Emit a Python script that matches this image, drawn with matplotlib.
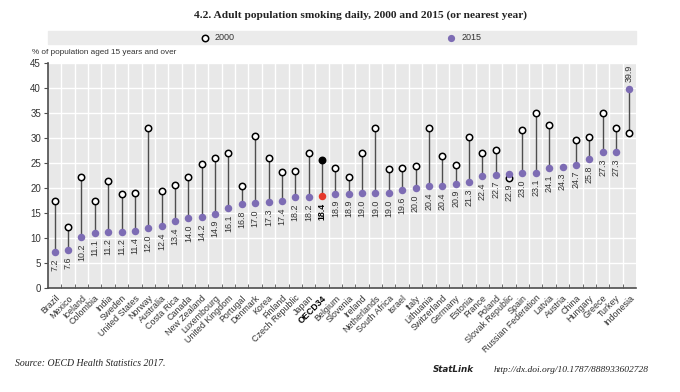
import matplotlib

matplotlib.use("Agg")

import matplotlib.pyplot as plt
from matplotlib.patches import Rectangle
import numpy as np

plt.rcParams["font.family"] = ["Liberation Sans", "DejaVu Sans"]

countries = [
    "Brazil", "Mexico", "Iceland", "Colombia", "India", "Sweden", "United States",
    "Norway", "Australia", "Costa Rica", "Canada", "New Zealand", "Luxembourg",
    "United Kingdom", "Portugal", "Denmark", "Korea", "Finland", "Czech Republic",
    "Japan", "OECD34", "Belgium", "Slovenia", "Ireland", "Netherlands", "South Africa",
    "Israel", "Italy", "Lithuania", "Switzerland", "Germany", "Estonia", "France",
    "Poland", "Slovak Republic", "Spain", "Russian Federation", "Latvia", "Austria",
    "China", "Hungary", "Greece", "Turkey", "Indonesia",
]
smoke_2015 = [
    7.2, 7.6, 10.2, 11.1, 11.2, 11.2, 11.4, 12.0, 12.4, 13.4, 14.0, 14.2, 14.9,
    16.1, 16.8, 17.0, 17.3, 17.4, 18.2, 18.2, 18.4, 18.9, 18.9, 19.0, 19.0, 19.0,
    19.6, 20.0, 20.4, 20.4, 20.9, 21.3, 22.4, 22.7, 22.9, 23.0, 23.1, 24.1, 24.3,
    24.7, 25.8, 27.3, 27.3, 39.9,
]
smoke_2000 = [
    17.5, 12.2, 22.3, 17.5, 21.5, 18.8, 19.0, 32.1, 19.5, 20.7, 22.3, 24.9, 26.0,
    27.0, 20.5, 30.5, 26.1, 23.3, 23.4, 27.0, 25.7, 24.1, 22.3, 27.0, 32.1, 23.9,
    24.1, 24.4, 32.1, 26.4, 24.7, 30.3, 27.0, 27.7, 22.1, 31.7, 35.0, 32.7, None,
    29.7, 30.2, 35.1, 32.1, 31.1,
]
yticks = [0, 5, 10, 15, 20, 25, 30, 35, 40, 45]
highlight = "OECD34"

PURPLE = "#7d6cb4"
RED = "#e5382b"
STEM = "#4d4d4d"
TEXT = "#333333"

fig = plt.figure(figsize=(6.8, 3.92), dpi=100)
ax = fig.add_axes([48 / 680, 1 - 288 / 392, 588 / 680, 225 / 392])
ax.set_facecolor("#e8e8e8")

x = np.arange(len(countries))
for i, (c, v15, v00) in enumerate(zip(countries, smoke_2015, smoke_2000)):
    is_hl = c == highlight
    if v00 is not None:
        ax.plot([i, i], [v00, v15], color=STEM, lw=1.0, zorder=2)
        ax.plot(i, v00, "o", ms=4.6, mfc="black" if is_hl else "white",
                mec="black", mew=1.1, zorder=3)
    ax.plot(i, v15, "o", ms=5.4, color=RED if is_hl else PURPLE, mec="none", zorder=4)
    low = v15 if v00 is None else min(v15, v00)
    if v15 > 35:
        ax.text(i, v15 + 1.3, f"{v15:.1f}", rotation=90, ha="center", va="bottom",
                fontsize=6.4, color=TEXT)
    else:
        ax.text(i, low - 1.3, f"{v15:.1f}", rotation=90, ha="center", va="top",
                fontsize=6.4, color="black" if is_hl else TEXT,
                fontweight="bold" if is_hl else "normal")

ax.set_xlim(-0.5, len(countries) - 0.5)
ax.set_ylim(0, 45)
ax.set_yticks(yticks)
ax.set_yticklabels([str(t) for t in yticks], fontsize=7, color=TEXT)
ax.set_xticks(x)
ax.set_xticklabels(countries, rotation=45, ha="right", rotation_mode="anchor",
                   fontsize=6.4, color=TEXT)
for lbl in ax.get_xticklabels():
    if lbl.get_text() == highlight:
        lbl.set_fontweight("bold")
        lbl.set_color("black")
ax.tick_params(axis="x", length=0, pad=4)
ax.tick_params(axis="y", length=3, color=STEM, pad=2)
ax.set_xticks(x[:-1] + 0.5, minor=True)
ax.tick_params(axis="x", which="minor", length=3, direction="in", color=STEM)
ax.grid(which="minor", axis="x", color="white", lw=1.0)
ax.grid(which="major", axis="y", color="white", lw=1.0)
ax.set_axisbelow(True)
for side in ["top", "right"]:
    ax.spines[side].set_visible(False)
for side in ["left", "bottom"]:
    ax.spines[side].set_color(STEM)
    ax.spines[side].set_linewidth(1.2)

# title and axis caption
fig.text(361 / 680, 1 - 15 / 392, "4.2. Adult population smoking daily, 2000 and 2015 (or nearest year)",
         ha="center", va="center", fontsize=8.2, fontweight="bold", color="#222222",
         family=["Liberation Serif"])
fig.text(32 / 680, 1 - 52 / 392, "% of population aged 15 years and over",
         ha="left", va="center", fontsize=5.9, color=TEXT)

# legend band
fig.patches.append(Rectangle((48 / 680, 1 - 44 / 392), 588 / 680, 13 / 392,
                             transform=fig.transFigure, color="#ebebeb", zorder=0))
fig.lines.append(plt.Line2D([205 / 680], [1 - 37.5 / 392], marker="o", ms=4.6, mfc="white",
                            mec="black", mew=1.1, transform=fig.transFigure))
fig.text(215 / 680, 1 - 37.5 / 392, "2000", ha="left", va="center", fontsize=6.5, color=TEXT)
fig.lines.append(plt.Line2D([451 / 680], [1 - 37.5 / 392], marker="o", ms=5.2, color=PURPLE,
                            mec="none", transform=fig.transFigure))
fig.text(462 / 680, 1 - 37.5 / 392, "2015", ha="left", va="center", fontsize=6.5, color=TEXT)

# footer
fig.text(15 / 680, 1 - 364 / 392, "Source: OECD Health Statistics 2017.", ha="left",
         va="center", fontsize=7.0, style="italic", color="#222222",
         family=["Liberation Serif"])
fig.text(433 / 680, 1 - 370 / 392, "StatLink", ha="left", va="center", fontsize=6.3,
         fontweight="bold", style="italic", color="#222222", family=["DejaVu Sans"])
fig.text(494 / 680, 1 - 370 / 392, "http://dx.doi.org/10.1787/888933602728", ha="left",
         va="center", fontsize=6.8, style="italic", color="#222222",
         family=["Liberation Serif"])

fig.savefig("out.png", dpi=100)
